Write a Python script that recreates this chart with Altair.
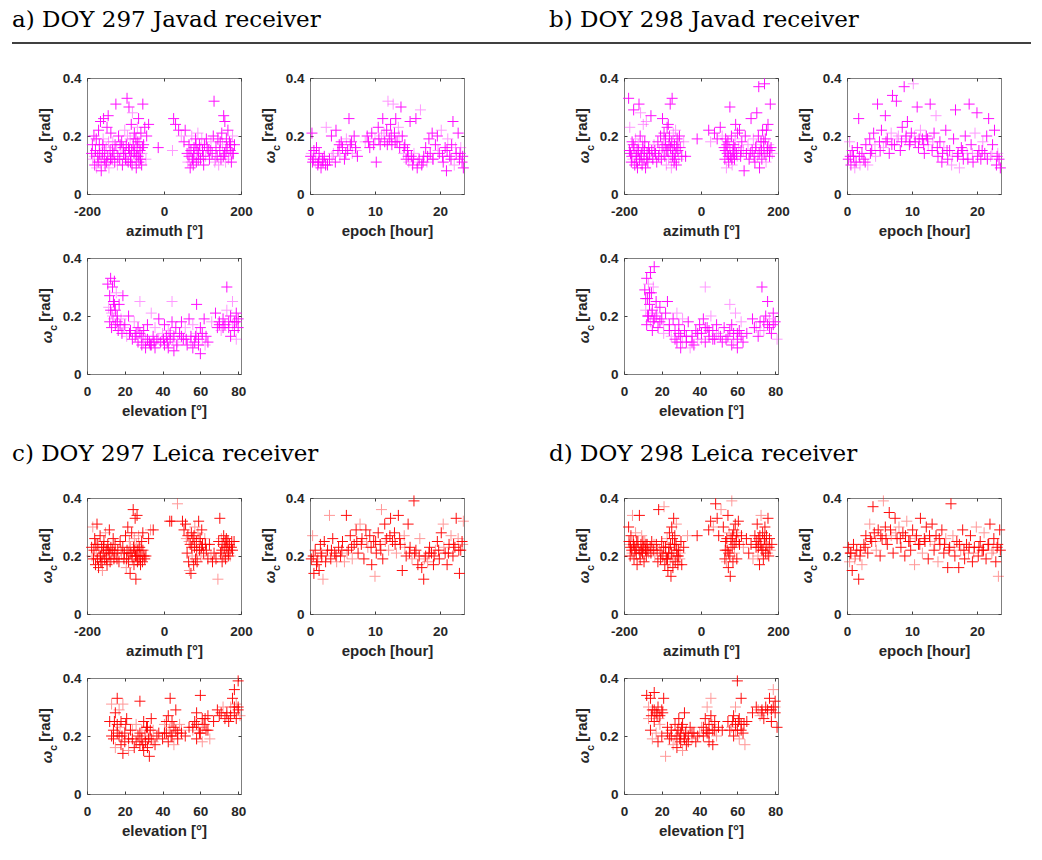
import altair as alt
import pandas as pd

# ---------------- data ----------------
A_AZ = [(-188,0.14),(-185,0.12),(-182,0.20),(-180,0.10),(-178,0.15),(-175,0.09),(-172,0.13),(-170,0.22),(-168,0.17),(-166,0.11),(-165,0.25),(-163,0.08),(-160,0.14),(-158,0.19),(-157,0.26),(-155,0.12),(-153,0.10),(-150,0.16),(-148,0.23),(-146,0.13),(-145,0.27),(-143,0.09),(-140,0.15),(-138,0.21),(-135,0.12),(-133,0.18),(-130,0.14),(-128,0.11),(-125,0.31),(-123,0.16),(-120,0.13),(-118,0.20),(-115,0.12),(-112,0.15),(-110,0.18),(-108,0.10),(-105,0.14),(-102,0.22),(-100,0.12),(-98,0.17),(-96,0.33),(-95,0.20),(-93,0.11),(-91,0.30),(-90,0.15),(-88,0.19),(-86,0.13),(-85,0.24),(-83,0.10),(-82,0.28),(-80,0.17),(-78,0.14),(-77,0.21),(-75,0.12),(-73,0.19),(-72,0.09),(-70,0.16),(-69,0.23),(-67,0.13),(-66,0.26),(-65,0.11),(-63,0.18),(-62,0.15),(-60,0.21),(-58,0.10),(-57,0.14),(-55,0.31),(-53,0.17),(-50,0.23),(-47,0.12),(-45,0.20),(-40,0.24),(-15,0.16),
        (22,0.15),(25,0.26),(30,0.24),(38,0.22),(45,0.20),(52,0.18),(55,0.22),(60,0.14),(62,0.11),(65,0.17),(68,0.09),(70,0.15),(72,0.20),(74,0.12),(76,0.10),(78,0.16),(80,0.13),(82,0.19),(84,0.11),(86,0.15),(88,0.21),(90,0.14),(92,0.17),(95,0.12),(98,0.19),(100,0.15),(103,0.10),(105,0.17),(108,0.13),(110,0.19),(115,0.15),(118,0.12),(122,0.18),(125,0.14),(128,0.20),(130,0.32),(132,0.11),(135,0.16),(138,0.13),(140,0.19),(142,0.10),(145,0.15),(148,0.12),(150,0.21),(152,0.17),(155,0.27),(157,0.14),(158,0.25),(160,0.11),(162,0.19),(164,0.16),(166,0.22),(168,0.13),(170,0.18),(172,0.15),(175,0.11),(178,0.20),(180,0.14),(183,0.17),
        (-186,0.17),(-181,0.13),(-176,0.19),(-171,0.11),(-167,0.14),(-162,0.12),(-159,0.17),(-154,0.15),(-149,0.11),(-144,0.18),(-139,0.12),(-134,0.15),(-127,0.17),(-121,0.10),(-114,0.17),(-106,0.16),(-101,0.14),(-97,0.12),(-92,0.16),(-87,0.11),(-84,0.15),(-79,0.19),(-76,0.15),(-71,0.13),(-68,0.18),(-64,0.14),(-61,0.12),(-56,0.16),(65,0.13),(71,0.11),(77,0.14),(83,0.17),(89,0.12),(94,0.16),(102,0.13),(112,0.16),(120,0.15),(134,0.12),(146,0.18),(154,0.13),(161,0.15),(167,0.12),(173,0.17),(177,0.14)]
A_EP = [(0.1,0.13),(0.2,0.14),(0.3,0.21),(0.5,0.12),(0.6,0.15),(0.8,0.11),(1.0,0.16),(1.2,0.10),(1.3,0.11),(1.5,0.12),(1.7,0.09),(2.0,0.11),(2.2,0.13),(2.5,0.23),(2.7,0.10),(3.0,0.12),(3.3,0.20),(3.6,0.14),(3.9,0.11),(4.0,0.22),(4.3,0.15),(4.6,0.13),(4.8,0.18),(5.0,0.16),(5.3,0.12),(5.6,0.19),(5.8,0.15),(6.0,0.26),(6.2,0.17),(6.5,0.14),(6.8,0.20),(7.0,0.16),(7.3,0.13),(8.5,0.18),(8.8,0.20),(9.2,0.16),(9.5,0.21),(10.0,0.19),(10.2,0.11),(10.5,0.23),(10.8,0.17),(11.0,0.20),(11.2,0.26),(11.5,0.18),(11.8,0.22),(12.0,0.32),(12.2,0.19),(12.4,0.24),(12.6,0.17),(12.8,0.31),(13.0,0.21),(13.2,0.26),(13.4,0.18),(13.6,0.23),(13.8,0.16),(14.0,0.30),(14.2,0.20),(14.4,0.14),(14.6,0.17),(14.8,0.12),(15.0,0.15),(15.2,0.11),(15.4,0.25),(15.6,0.13),(15.8,0.10),(16.0,0.14),(16.3,0.26),(16.5,0.09),(16.8,0.12),(17.0,0.29),(17.2,0.10),(17.5,0.13),(17.8,0.16),(18.0,0.11),(18.3,0.19),(18.5,0.14),(18.8,0.21),(19.0,0.12),(19.3,0.17),(19.6,0.20),(19.9,0.14),(20.2,0.22),(20.5,0.11),(20.8,0.16),(21.0,0.08),(21.2,0.19),(21.5,0.13),(21.8,0.17),(22.0,0.25),(22.2,0.10),(22.5,0.14),(22.8,0.21),(23.0,0.12),(23.2,0.16),(23.5,0.13),(23.6,0.09),
        (0.4,0.11),(0.9,0.13),(1.4,0.14),(1.9,0.12),(2.4,0.10),(3.4,0.13),(4.5,0.17),(5.5,0.14),(6.4,0.18),(7.1,0.15),(9.0,0.18),(9.8,0.17),(10.6,0.19),(11.4,0.21),(11.9,0.17),(12.5,0.20),(13.1,0.18),(13.7,0.20),(14.5,0.16),(15.1,0.13),(15.9,0.12),(16.6,0.11),(17.4,0.11),(18.1,0.13),(18.9,0.12),(19.7,0.15),(20.4,0.13),(21.1,0.15),(21.7,0.12),(22.4,0.16),(23.1,0.14),(23.4,0.11)]
A_EL = [(11,0.31),(11.5,0.23),(12,0.27),(12,0.18),(12.5,0.33),(13,0.21),(13,0.16),(13.5,0.30),(14,0.25),(14,0.19),(14.5,0.32),(15,0.22),(15,0.17),(15.5,0.28),(16,0.20),(16.5,0.15),(17,0.24),(18,0.19),(18.5,0.14),(19,0.27),(20,0.17),(21,0.13),(22,0.20),(23,0.15),(24,0.12),(25,0.18),(26,0.14),(27,0.16),(27,0.11),(28,0.25),(29,0.13),(29,0.10),(30,0.15),(31,0.12),(31,0.09),(32,0.17),(33,0.11),(34,0.21),(34,0.10),(35,0.13),(36,0.09),(36,0.16),(37,0.12),(38,0.19),(39,0.11),(40,0.14),(41,0.10),(41,0.17),(42,0.13),(43,0.15),(43,0.09),(44,0.12),(45,0.18),(45,0.25),(46,0.13),(46,0.08),(47,0.16),(48,0.11),(49,0.14),(50,0.18),(51,0.12),(52,0.16),(53,0.10),(54,0.19),(55,0.13),(56,0.17),(56,0.09),(57,0.11),(58,0.24),(58,0.14),(59,0.10),(60,0.16),(60,0.07),(61,0.12),(62,0.19),(63,0.13),(64,0.11),(66,0.18),(68,0.21),(69,0.16),(70,0.18),(71,0.15),(72,0.19),(73,0.17),(74,0.30),(74,0.22),(75,0.16),(76,0.20),(76,0.13),(77,0.25),(78,0.18),(78,0.15),(79,0.21),(79,0.12),(80,0.19),(80,0.16),
        (12.5,0.22),(13.5,0.20),(14.5,0.24),(16,0.18),(17.5,0.17),(19.5,0.16),(22.5,0.14),(25.5,0.13),(28,0.14),(30,0.11),(32,0.12),(33.5,0.10),(35.5,0.11),(38,0.12),(40.5,0.12),(42.5,0.11),(44,0.14),(45.5,0.12),(47.5,0.10),(50,0.13),(52.5,0.12),(55,0.11),(57.5,0.13),(59,0.12),(61,0.14),(62.5,0.10),(70,0.17),(72,0.16),(75,0.18),(77,0.17),(79,0.18)]

B_AZ = [(-188,0.33),(-185,0.23),(-183,0.14),(-181,0.11),(-179,0.18),(-177,0.12),(-175,0.29),(-174,0.16),(-172,0.10),(-170,0.19),(-168,0.13),(-166,0.15),(-165,0.09),(-163,0.17),(-161,0.31),(-160,0.12),(-158,0.20),(-157,0.28),(-155,0.14),(-153,0.10),(-151,0.16),(-150,0.24),(-148,0.12),(-146,0.18),(-144,0.09),(-142,0.25),(-140,0.14),(-138,0.11),(-136,0.16),(-133,0.13),(-130,0.27),(-128,0.15),(-125,0.12),(-122,0.17),(-118,0.14),(-115,0.11),(-112,0.18),(-108,0.15),(-105,0.20),(-103,0.12),(-100,0.26),(-98,0.17),(-96,0.21),(-94,0.13),(-92,0.19),(-90,0.10),(-88,0.23),(-86,0.15),(-85,0.24),(-84,0.12),(-82,0.20),(-80,0.31),(-79,0.16),(-77,0.09),(-76,0.18),(-75,0.33),(-74,0.13),(-72,0.21),(-70,0.11),(-69,0.17),(-67,0.14),(-66,0.22),(-64,0.10),(-62,0.19),(-60,0.15),(-58,0.12),(-56,0.20),(-54,0.16),(-50,0.13),(-45,0.18),(-40,0.13),(-10,0.19),
        (20,0.22),(25,0.18),(35,0.21),(42,0.19),(50,0.23),(55,0.20),(60,0.16),(62,0.12),(64,0.19),(66,0.09),(68,0.14),(70,0.18),(72,0.11),(74,0.16),(75,0.30),(77,0.13),(79,0.20),(81,0.10),(83,0.15),(85,0.17),(87,0.12),(89,0.19),(90,0.24),(92,0.14),(95,0.21),(98,0.16),(100,0.22),(103,0.13),(106,0.18),(110,0.15),(112,0.08),(115,0.20),(118,0.14),(122,0.17),(125,0.12),(130,0.26),(133,0.15),(136,0.19),(140,0.11),(142,0.16),(145,0.28),(147,0.13),(149,0.20),(150,0.37),(152,0.09),(154,0.15),(156,0.18),(158,0.12),(160,0.22),(162,0.16),(164,0.14),(165,0.38),(167,0.19),(169,0.11),(170,0.22),(172,0.15),(174,0.24),(176,0.17),(178,0.13),(180,0.31),(182,0.16),(185,0.14),
        (-186,0.15),(-180,0.13),(-176,0.17),(-171,0.14),(-167,0.11),(-162,0.15),(-156,0.13),(-152,0.18),(-147,0.15),(-141,0.12),(-134,0.14),(-126,0.13),(-120,0.15),(-110,0.13),(-101,0.16),(-97,0.14),(-93,0.17),(-89,0.15),(-83,0.17),(-78,0.13),(-73,0.15),(-68,0.12),(-63,0.16),(-59,0.18),(63,0.15),(67,0.17),(71,0.13),(76,0.15),(80,0.12),(84,0.14),(88,0.16),(94,0.13),(104,0.15),(128,0.14),(138,0.13),(144,0.17),(151,0.14),(157,0.15),(163,0.18),(168,0.13),(173,0.16),(179,0.15)]
B_EP = [(0.2,0.12),(0.4,0.18),(0.6,0.10),(0.8,0.15),(1.0,0.13),(1.2,0.09),(1.4,0.11),(1.6,0.16),(1.8,0.26),(2.0,0.10),(2.3,0.14),(2.6,0.12),(2.9,0.17),(3.2,0.10),(3.5,0.19),(3.8,0.15),(4.1,0.21),(4.4,0.13),(4.7,0.31),(5.0,0.18),(5.3,0.22),(5.6,0.16),(5.9,0.27),(6.2,0.19),(6.5,0.14),(6.8,0.21),(7.0,0.34),(7.3,0.17),(7.6,0.32),(7.9,0.20),(8.2,0.15),(8.5,0.23),(8.8,0.37),(9.0,0.19),(9.3,0.25),(9.6,0.17),(9.9,0.21),(10.2,0.38),(10.5,0.18),(10.8,0.30),(11.0,0.16),(11.3,0.22),(11.6,0.19),(11.9,0.14),(12.2,0.20),(12.5,0.17),(12.8,0.31),(13.1,0.15),(13.4,0.21),(13.7,0.27),(14.0,0.13),(14.3,0.18),(14.6,0.11),(14.9,0.16),(15.2,0.22),(15.5,0.12),(15.8,0.15),(16.1,0.10),(16.4,0.19),(16.7,0.29),(17.0,0.13),(17.3,0.09),(17.6,0.16),(17.9,0.12),(18.2,0.20),(18.5,0.14),(18.8,0.31),(19.1,0.17),(19.4,0.11),(19.7,0.21),(20.0,0.28),(20.3,0.15),(20.6,0.12),(20.9,0.18),(21.2,0.14),(21.5,0.20),(21.8,0.26),(22.1,0.13),(22.4,0.17),(22.7,0.22),(23.0,0.10),(23.2,0.14),(23.4,0.12),(23.6,0.09),
        (0.5,0.13),(1.1,0.11),(1.9,0.13),(2.8,0.11),(3.6,0.14),(4.3,0.17),(5.1,0.15),(6.0,0.18),(6.9,0.17),(7.7,0.19),(8.4,0.18),(9.1,0.20),(9.7,0.18),(10.4,0.20),(11.1,0.19),(11.8,0.17),(12.4,0.19),(13.2,0.18),(13.9,0.16),(14.7,0.14),(15.4,0.15),(16.2,0.13),(17.1,0.14),(17.8,0.15),(18.6,0.12),(19.3,0.14),(20.1,0.13),(20.8,0.15),(21.6,0.12),(22.3,0.14),(23.1,0.13)]
B_EL = [(11,0.29),(11.5,0.22),(12,0.33),(12,0.17),(12.5,0.26),(13,0.31),(13,0.20),(13.5,0.24),(14,0.35),(14,0.18),(14.5,0.28),(15,0.22),(15,0.15),(15.5,0.30),(16,0.37),(16,0.19),(17,0.25),(17.5,0.21),(18,0.16),(19,0.23),(20,0.19),(21,0.14),(22,0.21),(23,0.25),(24,0.17),(25,0.13),(26,0.19),(27,0.15),(28,0.11),(28,0.21),(29,0.17),(30,0.13),(30,0.09),(31,0.19),(32,0.15),(33,0.11),(34,0.18),(35,0.09),(36,0.13),(37,0.10),(38,0.15),(39,0.12),(40,0.17),(41,0.14),(42,0.19),(43,0.30),(43,0.11),(44,0.16),(45,0.13),(46,0.20),(47,0.15),(48,0.12),(49,0.17),(50,0.14),(52,0.11),(53,0.16),(55,0.13),(56,0.24),(57,0.10),(57,0.17),(58,0.14),(59,0.21),(60,0.12),(60,0.09),(61,0.15),(62,0.18),(63,0.11),(65,0.14),(68,0.19),(70,0.16),(71,0.13),(72,0.18),(73,0.30),(74,0.15),(75,0.20),(76,0.17),(76,0.25),(77,0.19),(78,0.14),(79,0.21),(80,0.18),(81,0.12),
        (11.5,0.26),(12.5,0.20),(13.5,0.28),(14.5,0.21),(15.5,0.18),(17,0.20),(19,0.18),(21,0.17),(24,0.15),(27,0.12),(29,0.14),(31,0.11),(33,0.13),(36,0.11),(39,0.14),(41,0.12),(43,0.16),(45,0.15),(47,0.12),(49,0.14),(51,0.13),(54,0.12),(56,0.15),(58,0.11),(60,0.14),(62,0.13),(69,0.16),(72,0.15),(74,0.18),(77,0.16),(79,0.17)]

C_AZ = [(-188,0.23),(-185,0.30),(-183,0.19),(-180,0.26),(-178,0.17),(-176,0.21),(-174,0.31),(-172,0.24),(-170,0.16),(-168,0.20),(-166,0.27),(-164,0.18),(-162,0.23),(-160,0.15),(-158,0.21),(-156,0.25),(-154,0.19),(-152,0.28),(-150,0.22),(-148,0.17),(-146,0.24),(-144,0.20),(-142,0.29),(-140,0.18),(-138,0.23),(-135,0.21),(-132,0.26),(-130,0.19),(-127,0.24),(-124,0.20),(-120,0.22),(-117,0.18),(-114,0.25),(-110,0.21),(-107,0.23),(-104,0.19),(-100,0.27),(-98,0.16),(-96,0.22),(-94,0.30),(-92,0.18),(-90,0.25),(-88,0.14),(-86,0.21),(-84,0.28),(-82,0.19),(-80,0.36),(-79,0.23),(-78,0.17),(-77,0.26),(-75,0.33),(-74,0.20),(-73,0.12),(-72,0.24),(-70,0.34),(-69,0.18),(-68,0.22),(-66,0.27),(-65,0.19),(-63,0.23),(-61,0.17),(-60,0.21),(-58,0.25),(-56,0.18),(-55,0.28),(-53,0.22),(-50,0.19),(-47,0.20),(-40,0.26),(-35,0.29),(-28,0.29),
        (15,0.32),(20,0.32),(35,0.38),(48,0.32),(52,0.29),(56,0.31),(58,0.26),(60,0.21),(62,0.27),(64,0.18),(66,0.15),(68,0.24),(70,0.14),(71,0.28),(73,0.20),(75,0.26),(77,0.17),(79,0.23),(80,0.30),(82,0.19),(84,0.25),(86,0.18),(88,0.28),(90,0.32),(92,0.22),(94,0.26),(96,0.20),(98,0.29),(100,0.24),(103,0.21),(106,0.26),(110,0.22),(114,0.19),(118,0.24),(122,0.20),(126,0.18),(130,0.21),(135,0.19),(140,0.12),(142,0.25),(145,0.33),(147,0.21),(149,0.26),(151,0.18),(153,0.24),(155,0.27),(157,0.20),(158,0.23),(160,0.19),(162,0.26),(164,0.22),(166,0.25),(168,0.21),(170,0.24),(172,0.20),(175,0.23),(178,0.22),(182,0.25),
        (-187,0.20),(-182,0.22),(-177,0.24),(-173,0.19),(-169,0.22),(-165,0.20),(-161,0.18),(-157,0.23),(-153,0.21),(-149,0.19),(-145,0.22),(-141,0.21),(-137,0.19),(-133,0.22),(-128,0.21),(-122,0.19),(-112,0.22),(-103,0.21),(-97,0.19),(-91,0.21),(-87,0.23),(-83,0.20),(-76,0.22),(-71,0.20),(-67,0.23),(-62,0.20),(-57,0.22),(-52,0.20),(65,0.25),(72,0.23),(78,0.27),(85,0.22),(91,0.26),(97,0.23),(108,0.24),(150,0.22),(154,0.20),(159,0.25),(163,0.23),(167,0.20),(171,0.22),(176,0.25)]
C_EP = [(0.2,0.19),(0.4,0.27),(0.6,0.14),(0.8,0.22),(1.0,0.17),(1.2,0.19),(1.4,0.15),(1.6,0.24),(1.8,0.20),(2.0,0.12),(2.2,0.25),(2.4,0.18),(2.7,0.22),(3.0,0.34),(3.2,0.19),(3.5,0.26),(3.8,0.21),(4.1,0.18),(4.4,0.23),(4.7,0.20),(5.0,0.25),(5.3,0.18),(5.6,0.34),(5.9,0.22),(6.2,0.27),(6.5,0.19),(6.8,0.24),(7.1,0.29),(7.4,0.21),(7.7,0.31),(8.0,0.26),(8.3,0.19),(8.6,0.29),(8.9,0.23),(9.2,0.27),(9.5,0.17),(9.8,0.25),(10.0,0.13),(10.2,0.21),(10.5,0.28),(10.8,0.24),(11.0,0.36),(11.2,0.19),(11.5,0.31),(11.8,0.26),(12.1,0.22),(12.4,0.33),(12.7,0.25),(13.0,0.28),(13.3,0.21),(13.6,0.34),(13.9,0.24),(14.2,0.15),(14.5,0.27),(14.8,0.20),(15.1,0.31),(15.4,0.23),(15.7,0.19),(16.0,0.39),(16.3,0.22),(16.6,0.17),(16.9,0.26),(17.2,0.16),(17.5,0.12),(17.8,0.20),(18.1,0.18),(18.4,0.23),(18.7,0.21),(19.0,0.17),(19.3,0.22),(19.6,0.25),(19.9,0.19),(20.2,0.28),(20.5,0.31),(20.8,0.21),(21.1,0.17),(21.4,0.24),(21.7,0.27),(22.0,0.20),(22.3,0.23),(22.5,0.33),(22.8,0.26),(23.0,0.14),(23.2,0.22),(23.4,0.25),(23.6,0.32),
        (0.5,0.20),(1.1,0.18),(1.7,0.21),(2.5,0.20),(3.3,0.22),(4.0,0.20),(4.9,0.22),(5.7,0.21),(6.4,0.23),(7.2,0.25),(7.9,0.24),(8.7,0.25),(9.4,0.23),(10.1,0.25),(10.9,0.22),(11.6,0.25),(12.3,0.27),(13.1,0.24),(13.8,0.26),(14.6,0.23),(15.3,0.21),(16.1,0.21),(16.8,0.20),(17.6,0.19),(18.3,0.21),(19.1,0.20),(19.8,0.22),(20.6,0.23),(21.3,0.21),(22.1,0.24),(22.9,0.22),(23.5,0.24)]
C_EL = [(12,0.25),(13,0.31),(14,0.22),(14,0.19),(15,0.28),(15,0.16),(16,0.24),(16,0.33),(17,0.20),(17,0.29),(18,0.17),(18,0.25),(19,0.14),(19,0.31),(20,0.21),(20,0.18),(21,0.26),(22,0.15),(23,0.22),(24,0.19),(25,0.16),(26,0.24),(27,0.20),(28,0.32),(28,0.17),(29,0.22),(29,0.19),(30,0.25),(30,0.15),(31,0.21),(31,0.18),(32,0.23),(32,0.16),(33,0.20),(33,0.13),(34,0.26),(34,0.19),(35,0.22),(36,0.17),(38,0.21),(40,0.19),(41,0.24),(42,0.21),(43,0.27),(43,0.18),(44,0.23),(44,0.33),(45,0.20),(45,0.25),(46,0.17),(47,0.22),(47,0.29),(48,0.19),(49,0.24),(50,0.21),(52,0.20),(54,0.23),(56,0.22),(57,0.25),(58,0.19),(58,0.28),(59,0.23),(60,0.34),(60,0.21),(61,0.26),(61,0.18),(62,0.24),(63,0.22),(64,0.27),(65,0.19),(67,0.25),(69,0.29),(70,0.27),(72,0.30),(73,0.26),(74,0.28),(75,0.25),(76,0.30),(77,0.33),(78,0.28),(78,0.36),(79,0.31),(79,0.26),(80,0.39),(80,0.29),(81,0.27),
        (13,0.20),(14.5,0.25),(16,0.21),(17.5,0.23),(18.5,0.20),(20.5,0.24),(22,0.19),(24,0.22),(26,0.18),(28,0.21),(29.5,0.17),(30.5,0.20),(31.5,0.23),(32.5,0.19),(33.5,0.22),(35,0.18),(37,0.20),(41,0.21),(42,0.25),(43.5,0.22),(44.5,0.20),(46,0.23),(48,0.21),(50,0.22),(56,0.23),(58,0.24),(59.5,0.21),(61,0.23),(62.5,0.26),(64,0.22),(71,0.28),(74,0.27),(76,0.27),(78,0.30),(80,0.30)]

D_AZ = [(-188,0.30),(-186,0.24),(-184,0.20),(-182,0.27),(-180,0.22),(-178,0.34),(-176,0.25),(-174,0.19),(-172,0.23),(-170,0.28),(-168,0.21),(-166,0.17),(-164,0.25),(-162,0.22),(-160,0.34),(-158,0.19),(-156,0.24),(-154,0.27),(-152,0.21),(-150,0.23),(-148,0.18),(-146,0.25),(-144,0.22),(-142,0.20),(-140,0.24),(-136,0.21),(-132,0.23),(-128,0.25),(-124,0.22),(-120,0.20),(-116,0.24),(-112,0.18),(-110,0.36),(-108,0.22),(-105,0.19),(-102,0.25),(-99,0.20),(-96,0.37),(-94,0.17),(-92,0.23),(-90,0.19),(-88,0.26),(-86,0.15),(-84,0.21),(-82,0.28),(-80,0.18),(-79,0.24),(-78,0.13),(-76,0.30),(-75,0.20),(-74,0.26),(-73,0.16),(-71,0.33),(-70,0.22),(-68,0.27),(-67,0.18),(-65,0.24),(-64,0.31),(-62,0.20),(-60,0.17),(-58,0.22),(-55,0.19),(-52,0.25),(-50,0.17),(-45,0.23),(-35,0.27),(-10,0.27),
        (20,0.29),(25,0.32),(32,0.30),(38,0.38),(42,0.33),(46,0.27),(52,0.36),(58,0.30),(62,0.19),(64,0.25),(66,0.18),(68,0.22),(70,0.34),(71,0.16),(73,0.28),(75,0.20),(76,0.13),(78,0.26),(80,0.39),(81,0.23),(83,0.18),(85,0.29),(87,0.21),(89,0.31),(91,0.25),(93,0.19),(95,0.28),(97,0.32),(100,0.24),(105,0.27),(110,0.23),(118,0.26),(124,0.21),(130,0.24),(135,0.19),(140,0.27),(143,0.23),(146,0.31),(148,0.20),(150,0.26),(152,0.17),(154,0.24),(156,0.34),(158,0.22),(160,0.28),(162,0.19),(164,0.25),(166,0.30),(168,0.21),(170,0.27),(172,0.23),(174,0.33),(176,0.20),(178,0.26),(180,0.22),(184,0.24),
        (-187,0.25),(-183,0.23),(-179,0.21),(-175,0.24),(-171,0.22),(-167,0.25),(-163,0.23),(-159,0.21),(-155,0.22),(-151,0.25),(-147,0.23),(-143,0.24),(-138,0.22),(-130,0.21),(-122,0.24),(-114,0.22),(-104,0.21),(-97,0.23),(-91,0.21),(-87,0.19),(-83,0.23),(-77,0.21),(-72,0.19),(-69,0.24),(-63,0.22),(-59,0.20),(-54,0.21),(63,0.22),(67,0.26),(72,0.21),(77,0.23),(82,0.27),(86,0.24),(92,0.27),(98,0.25),(145,0.25),(149,0.23),(153,0.27),(157,0.24),(161,0.22),(165,0.26),(169,0.24),(173,0.21),(177,0.23)]
D_EP = [(0.2,0.23),(0.4,0.18),(0.6,0.21),(0.8,0.15),(1.0,0.24),(1.2,0.19),(1.5,0.22),(1.8,0.12),(2.0,0.20),(2.3,0.17),(2.6,0.24),(2.9,0.27),(3.2,0.21),(3.5,0.31),(3.8,0.25),(4.0,0.37),(4.2,0.28),(4.5,0.22),(4.8,0.29),(5.1,0.20),(5.4,0.26),(5.6,0.39),(5.9,0.30),(6.2,0.24),(6.5,0.35),(6.8,0.27),(7.1,0.21),(7.4,0.33),(7.7,0.26),(8.0,0.30),(8.3,0.23),(8.6,0.28),(8.9,0.20),(9.2,0.32),(9.5,0.25),(9.8,0.22),(10.1,0.29),(10.4,0.17),(10.7,0.27),(11.0,0.24),(11.3,0.33),(11.6,0.21),(11.9,0.26),(12.2,0.30),(12.5,0.19),(12.8,0.25),(13.1,0.31),(13.4,0.22),(13.7,0.27),(14.0,0.18),(14.3,0.24),(14.6,0.29),(14.9,0.21),(15.2,0.26),(15.5,0.16),(15.8,0.23),(16.0,0.38),(16.3,0.27),(16.6,0.20),(16.9,0.25),(17.2,0.16),(17.5,0.22),(17.8,0.29),(18.1,0.19),(18.4,0.24),(18.7,0.21),(19.0,0.27),(19.3,0.18),(19.6,0.23),(19.9,0.30),(20.2,0.20),(20.5,0.25),(20.8,0.22),(21.1,0.28),(21.4,0.19),(21.7,0.24),(22.0,0.31),(22.3,0.21),(22.6,0.26),(22.9,0.18),(23.1,0.23),(23.3,0.13),(23.5,0.29),(23.6,0.22),
        (0.5,0.21),(1.3,0.20),(2.1,0.22),(2.8,0.23),(3.6,0.26),(4.4,0.25),(5.2,0.27),(6.0,0.26),(6.7,0.29),(7.5,0.28),(8.2,0.26),(9.0,0.27),(9.7,0.25),(10.5,0.26),(11.2,0.24),(12.0,0.25),(12.7,0.27),(13.5,0.24),(14.2,0.26),(15.0,0.24),(15.7,0.22),(16.5,0.23),(17.3,0.24),(18.0,0.22),(18.8,0.23),(19.5,0.21),(20.3,0.23),(21.0,0.22),(21.8,0.24),(22.5,0.22),(23.2,0.24)]
D_EL = [(12,0.34),(13,0.26),(14,0.22),(14,0.33),(15,0.29),(15,0.19),(16,0.25),(16,0.35),(17,0.28),(17,0.21),(18,0.30),(18,0.18),(19,0.27),(19,0.24),(20,0.29),(20,0.20),(21,0.33),(22,0.13),(23,0.23),(24,0.19),(25,0.22),(26,0.17),(27,0.24),(28,0.20),(28,0.16),(29,0.22),(29,0.26),(30,0.18),(30,0.21),(31,0.15),(31,0.24),(32,0.19),(32,0.28),(33,0.22),(33,0.17),(34,0.20),(35,0.23),(36,0.19),(37,0.21),(38,0.18),(39,0.20),(41,0.23),(42,0.20),(43,0.26),(44,0.21),(44,0.30),(45,0.18),(45,0.24),(46,0.27),(46,0.33),(47,0.22),(47,0.17),(48,0.25),(49,0.20),(50,0.23),(52,0.22),(55,0.25),(57,0.23),(58,0.27),(58,0.20),(59,0.24),(59,0.30),(60,0.39),(60,0.22),(61,0.26),(61,0.19),(62,0.24),(62,0.33),(63,0.21),(64,0.17),(65,0.25),(68,0.28),(70,0.30),(72,0.27),(73,0.29),(74,0.26),(75,0.30),(76,0.28),(77,0.33),(78,0.25),(79,0.30),(79,0.36),(80,0.28),(80,0.32),(81,0.23),
        (13,0.30),(14.5,0.27),(16,0.29),(17.5,0.27),(18.5,0.26),(20.5,0.28),(23,0.21),(25,0.20),(27,0.19),(28.5,0.22),(29.5,0.19),(30.5,0.23),(31.5,0.20),(32.5,0.21),(34,0.18),(36,0.21),(40,0.21),(42,0.23),(43.5,0.22),(45,0.21),(46.5,0.24),(48,0.22),(56,0.22),(57.5,0.25),(59,0.22),(60.5,0.25),(62,0.22),(63.5,0.24),(71,0.29),(73,0.28),(76,0.29),(78,0.29),(80,0.30)]

TITLES = ["a) DOY 297 Javad receiver", "b) DOY 298 Javad receiver",
          "c) DOY 297 Leica receiver", "d) DOY 298 Leica receiver"]
X_TITLES = ["azimuth [°]", "epoch [hour]", "elevation [°]"]
X_DOMAINS = [[-200, 200], [0, 23.7], [0, 81.5]]
X_TICKS = [[-200, 0, 200], [0, 10, 20], [0, 20, 40, 60, 80]]
Y_TICKS = [0, 0.2, 0.4]
MAGENTA = "#ff00ff"
RED = "#ff0000"

# ---------------- styling / layout ----------------
W, H = 154, 116
GAP_IN, GAP_MID = 69, 160        # horizontal gaps between plot areas
VGAP_IN, VGAP_MID = 64, 124      # vertical gaps between plot areas
SANS = "Liberation Sans"
SERIF = "DejaVu Serif"
INK = "#262626"
CROSS = "M-1,0L1,0M0,-1L0,1"
BLANK_DF = pd.DataFrame({"b": [0]})


def text_layer(txt, x, y, **kw):
    return alt.Chart(pd.DataFrame({"t": [txt]})).mark_text(**kw).encode(
        x=alt.value(x), y=alt.value(y), text="t:N")


def spacer(w, h):
    return alt.Chart(BLANK_DF).mark_point(opacity=0).encode(
        x=alt.value(0), y=alt.value(0)
    ).properties(width=w, height=h,
                 view=alt.ViewBackground(strokeOpacity=0, fillOpacity=0))


def panel(pts, k, color, title=None, title_y=None, rule=False):
    df = pd.DataFrame(pts, columns=["x", "y"])
    df["op"] = [0.4 if i % 4 == 1 else 0.95 for i in range(len(df))]
    scat = alt.Chart(df).mark_point(
        shape=CROSS, filled=False, size=121, strokeWidth=1, color=color
    ).encode(
        x=alt.X("x:Q", scale=alt.Scale(domain=X_DOMAINS[k], nice=False, zero=False),
                axis=alt.Axis(values=X_TICKS[k], title=X_TITLES[k],
                              labelExpr="datum.value + ''")),
        y=alt.Y("y:Q", scale=alt.Scale(domain=[0, 0.4], nice=False),
                axis=alt.Axis(values=Y_TICKS, title=None,
                              labelExpr="datum.value + ''")),
        opacity=alt.Opacity("op:Q", scale=None),
    )
    layers = [scat,
              text_layer("ω", -40, 79, angle=270, font=SANS, fontSize=15,
                         fontStyle="italic", fontWeight="bold", color=INK,
                         align="center", baseline="middle"),
              text_layer("c", -33, 70, angle=270, font=SANS, fontSize=11,
                         fontWeight="bold", color=INK, align="center",
                         baseline="middle"),
              text_layer("[rad]", -42, 47, angle=270, font=SANS, fontSize=15,
                         fontWeight="bold", color=INK, align="center",
                         baseline="middle")]
    if title is not None:
        layers.append(text_layer(title, -75, title_y, font=SERIF, fontSize=23,
                                 color="black", align="left",
                                 baseline="alphabetic"))
    if rule:
        layers.append(alt.Chart(pd.DataFrame({"r": [0]})).mark_rule(
            color="black", strokeWidth=1.5).encode(
            x=alt.value(-75), x2=alt.value(944), y=alt.value(-35)))
    return alt.layer(*layers).properties(width=W, height=H)


cells = []
# row 1: a/b azimuth + epoch
cells += [panel(A_AZ, 0, MAGENTA, TITLES[0], -51, rule=True), spacer(GAP_IN, 1),
          panel(A_EP, 1, MAGENTA), spacer(GAP_MID, 1),
          panel(B_AZ, 0, MAGENTA, TITLES[1], -51), spacer(GAP_IN, 1),
          panel(B_EP, 1, MAGENTA)]
cells += [spacer(1, VGAP_IN) for _ in range(7)]
# row 3: a/b elevation
cells += [panel(A_EL, 2, MAGENTA), spacer(1, 1), spacer(1, 1), spacer(1, 1),
          panel(B_EL, 2, MAGENTA), spacer(1, 1), spacer(1, 1)]
cells += [spacer(1, VGAP_MID) for _ in range(7)]
# row 5: c/d azimuth + epoch
cells += [panel(C_AZ, 0, RED, TITLES[2], -37), spacer(1, 1),
          panel(C_EP, 1, RED), spacer(1, 1),
          panel(D_AZ, 0, RED, TITLES[3], -37), spacer(1, 1),
          panel(D_EP, 1, RED)]
cells += [spacer(1, VGAP_IN) for _ in range(7)]
# row 7: c/d elevation
cells += [panel(C_EL, 2, RED), spacer(1, 1), spacer(1, 1), spacer(1, 1),
          panel(D_EL, 2, RED), spacer(1, 1), spacer(1, 1)]

chart = alt.concat(*cells, columns=7, spacing=0, bounds="flush",
                   align="each").properties(
    padding={"left": 2, "top": 0, "right": 0, "bottom": 0}
).configure_view(
    stroke="#7f7f7f", strokeWidth=1
).configure_axis(
    domain=False, ticks=False, tickSize=0, grid=True, gridColor="#404040",
    gridWidth=1, labelFont=SANS, labelFontSize=13.5, labelFontWeight="bold",
    labelColor=INK, titleFont=SANS, titleFontSize=15, titleFontWeight="bold",
    titleColor=INK, labelFlush=False,
).configure_axisX(
    gridDash=[3, 110], labelPadding=10, titlePadding=6
).configure_axisY(
    gridDash=[3, 148], labelPadding=6
)

chart.save("out.html", embed_options={"renderer": "svg", "actions": False})
